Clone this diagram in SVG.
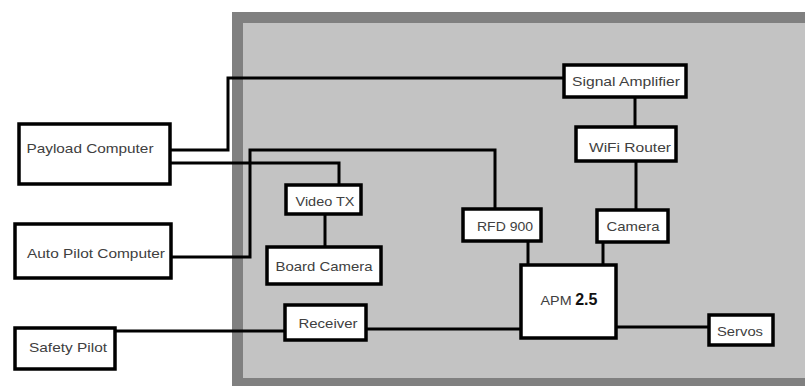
<svg xmlns="http://www.w3.org/2000/svg" width="805" height="386" viewBox="0 0 805 386">
<style>
.box{fill:#fff;stroke:#000;stroke-width:3.5}
.lbl{font-family:"Liberation Sans",Arial,sans-serif;font-size:13px;fill:#404040;text-anchor:middle}
.wire{fill:none;stroke:#000;stroke-width:3}
</style>
<rect x="0" y="0" width="805" height="386" fill="#fff"/>
<g id="panel">
<rect x="232" y="12" width="573" height="374" fill="#808080"/>
<rect x="243" y="23" width="562" height="355" fill="#c3c3c3"/>
</g>
<g id="connectors">
<path class="wire" d="M170,150 H228 V78 H564"/>
<path class="wire" d="M170,163 H339 V185"/>
<path class="wire" d="M171,257 H250 V150 H495 V209"/>
<path class="wire" d="M115,331 H285"/>
<path class="wire" d="M366,329 H521"/>
<path class="wire" d="M616,327 H709"/>
<path class="wire" d="M528,241 V265"/>
<path class="wire" d="M603,242 V265"/>
<path class="wire" d="M635,97 V127"/>
<path class="wire" d="M636,161 V210"/>
<path class="wire" d="M325,214 V247"/>
</g>
<g id="payload-computer">
<rect class="box" x="19" y="124" width="151" height="60"/>
<text class="lbl" x="90" y="153" textLength="127" lengthAdjust="spacingAndGlyphs">Payload Computer</text>
</g>
<g id="auto-pilot-computer">
<rect class="box" x="15" y="224" width="156" height="54"/>
<text class="lbl" x="96" y="258" textLength="138" lengthAdjust="spacingAndGlyphs">Auto Pilot Computer</text>
</g>
<g id="safety-pilot">
<rect class="box" x="15" y="328" width="100" height="41"/>
<text class="lbl" x="68" y="352" textLength="78" lengthAdjust="spacingAndGlyphs">Safety Pilot</text>
</g>
<g id="signal-amplifier">
<rect class="box" x="564" y="65" width="122" height="32"/>
<text class="lbl" x="626" y="86" textLength="108" lengthAdjust="spacingAndGlyphs">Signal Amplifier</text>
</g>
<g id="wifi-router">
<rect class="box" x="576" y="127" width="100" height="34"/>
<text class="lbl" x="630" y="152" textLength="82" lengthAdjust="spacingAndGlyphs">WiFi Router</text>
</g>
<g id="video-tx">
<rect class="box" x="286" y="185" width="75" height="29"/>
<text class="lbl" x="325" y="206" textLength="59" lengthAdjust="spacingAndGlyphs">Video TX</text>
</g>
<g id="board-camera">
<rect class="box" x="267" y="247" width="114" height="37"/>
<text class="lbl" x="324" y="271" textLength="97" lengthAdjust="spacingAndGlyphs">Board Camera</text>
</g>
<g id="rfd-900">
<rect class="box" x="463" y="209" width="78" height="32"/>
<text class="lbl" x="505" y="231" textLength="56" lengthAdjust="spacingAndGlyphs">RFD 900</text>
</g>
<g id="camera">
<rect class="box" x="597" y="210" width="71" height="32"/>
<text class="lbl" x="633" y="231" textLength="53" lengthAdjust="spacingAndGlyphs">Camera</text>
</g>
<g id="apm">
<rect class="box" x="521" y="265" width="95" height="73"/>
<text class="lbl" x="569" y="305"><tspan textLength="31" lengthAdjust="spacingAndGlyphs">APM</tspan> <tspan font-weight="bold" font-size="16" fill="#111">2.5</tspan></text>
</g>
<g id="receiver">
<rect class="box" x="285" y="305" width="81" height="35"/>
<text class="lbl" x="328" y="328" textLength="59" lengthAdjust="spacingAndGlyphs">Receiver</text>
</g>
<g id="servos">
<rect class="box" x="709" y="315" width="64" height="30"/>
<text class="lbl" x="740" y="336" textLength="46" lengthAdjust="spacingAndGlyphs">Servos</text>
</g>
</svg>
